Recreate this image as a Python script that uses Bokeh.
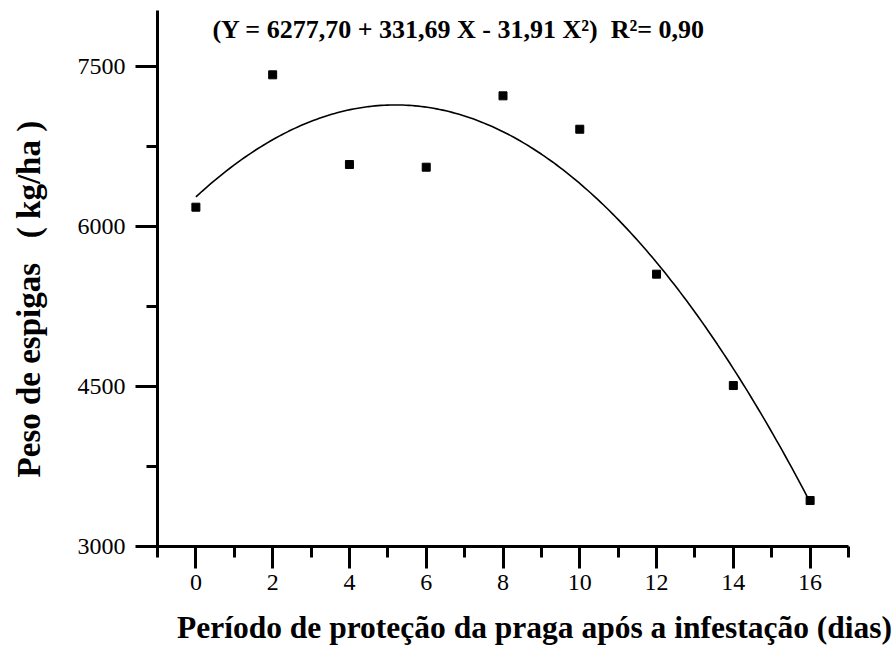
import numpy as np
from bokeh.plotting import figure
from bokeh.models import Range1d, FixedTicker, Label
from bokeh.embed import file_html
from bokeh.resources import INLINE

# Data
dias = [0, 2, 4, 6, 8, 10, 12, 14, 16]
peso = [6181, 7422, 6581, 6556, 7225, 6912, 5553, 4509, 3431]

# Fitted model coefficients (as printed on the chart)
b0, b1, b2 = 6277.70, 331.69, -31.91

x_major = [0, 2, 4, 6, 8, 10, 12, 14, 16]
x_minor = [-1, 1, 3, 5, 7, 9, 11, 13, 15, 17]
y_major = [3000, 4500, 6000, 7500]
y_minor = [3750, 5250, 6750]

NB = "\u00a0"
title_txt = "(Y = 6277,70 + 331,69 X - 31,91 X\u00b2)" + NB + NB + "R\u00b2= 0,90"
xlabel_txt = NB * 8 + "Período de proteção da praga após a infestação (dias)"
ylabel_txt = "Peso de espigas" + NB + NB + NB + "( kg/ha )" + NB * 5

FONT = "Liberation Serif"

p = figure(width=896, height=659, output_backend="svg", toolbar_location=None,
           x_range=Range1d(-1, 17), y_range=Range1d(3000, 8025),
           min_border_left=157, min_border_right=48, min_border_top=10,
           min_border_bottom=113)
p.xgrid.visible = False
p.ygrid.visible = False
p.outline_line_color = None
p.background_fill_color = "white"
p.border_fill_color = "white"

p.xaxis.ticker = FixedTicker(ticks=x_major, minor_ticks=x_minor)
p.yaxis.ticker = FixedTicker(ticks=y_major, minor_ticks=y_minor)

for ax in (p.xaxis, p.yaxis):
    ax.axis_line_width = 3
    ax.axis_line_color = "black"
    ax.major_tick_line_width = 3
    ax.minor_tick_line_width = 3
    ax.major_tick_line_color = "black"
    ax.minor_tick_line_color = "black"
    ax.major_tick_out = 22
    ax.major_tick_in = 0
    ax.minor_tick_out = 11
    ax.minor_tick_in = 0
    ax.major_label_text_font = FONT
    ax.major_label_text_font_size = "24px"
    ax.major_label_text_color = "black"
    ax.axis_label_text_font = FONT
    ax.axis_label_text_font_style = "bold"
    ax.axis_label_text_color = "black"
p.xaxis.major_label_standoff = 6
p.yaxis.major_label_standoff = 10

p.yaxis.axis_label = ylabel_txt
p.yaxis.axis_label_standoff = 28
p.yaxis.axis_label_text_font_size = "33px"

p.xaxis.axis_label = xlabel_txt
p.xaxis.axis_label_standoff = 17
p.xaxis.axis_label_text_font_size = "31.5px"

# fitted curve
xs = np.linspace(0, 16, 200)
ys = b0 + b1 * xs + b2 * xs ** 2
p.line(xs, ys, line_color="black", line_width=1.6)

# observed points
p.scatter(dias, peso, marker="square", size=8, fill_color="black", line_color="black")

p.add_layout(Label(x=0.43, y=7850, text=title_txt, text_font=FONT,
                   text_font_size="26px", text_font_style="bold",
                   text_align="left", text_baseline="alphabetic", text_color="black"))

open("out.html", "w").write(file_html(p, INLINE))
